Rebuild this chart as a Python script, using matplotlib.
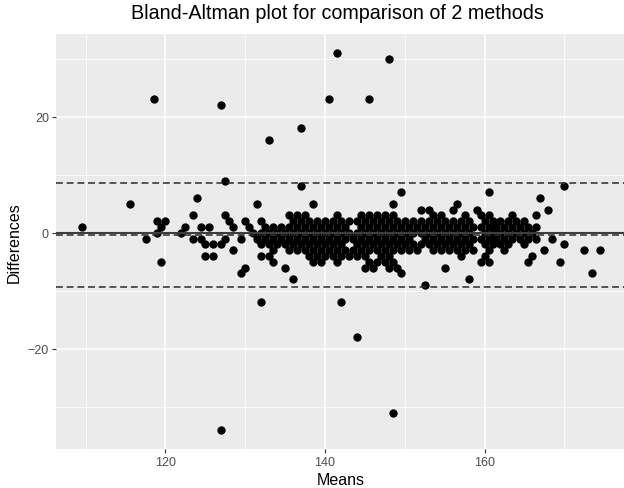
import numpy as np
import matplotlib
matplotlib.use("Agg")
import matplotlib.pyplot as plt
from matplotlib.ticker import MultipleLocator

plt.rcParams["font.family"] = ["Liberation Sans", "DejaVu Sans"]

# ── Data: means of the two methods, grouped by their (integer) difference ──
d31 = [141.5]
d30 = [148]
d23 = [118.5, 140.5, 145.5]
d22 = [127]
d18 = [137]
d16 = [133]
d9 = [127.5]
d8 = [137, 170]
d7 = [149.5, 160.5]
d6 = [124, 167]
d5 = [115.5, 131.5, 138.5, 148.5, 156.5]
d4 = [152, 153, 156, 159, 168]
d3 = [123.5, 127.5, 135.5, 136.5, 137.5, 141.5, 144.5, 145.5, 146.5, 147.5,
      148.5, 153.5, 154.5, 157.5, 159.5, 160.5, 163.5, 166.5]
d2 = [119, 120, 128, 130, 132, 136, 137, 138, 139, 140, 141, 142, 143, 144,
      145, 146, 147, 148, 149, 150, 151, 152, 153, 154, 155, 156, 157, 158,
      160, 161, 162, 163, 164, 165]
d1 = [109.5, 119.5, 122.5, 124.5, 125.5, 128.5, 130.5, 132.5, 133.5, 134.5,
      135.5, 136.5, 137.5, 138.5, 139.5, 140.5, 141.5, 142.5, 144.5, 145.5,
      146.5, 147.5, 148.5, 149.5, 150.5, 151.5, 152.5, 153.5, 154.5, 155.5,
      156.5, 157.5, 158.5, 159.5, 160.5, 161.5, 162.5, 163.5, 164.5, 165.5,
      166.5]
d0 = [119, 122, 131, 132, 133, 134, 135, 136, 137, 138, 139, 140, 141, 142,
      143, 144, 145, 146, 147, 148, 149, 150, 151, 152, 153, 154, 155, 156,
      157, 158, 160, 161, 162, 163, 164, 165, 166]
dm1 = [117.5, 123.5, 124.5, 127.5, 129.5, 131.5, 132.5, 133.5, 134.5, 135.5,
       136.5, 137.5, 138.5, 139.5, 140.5, 141.5, 142.5, 143.5, 144.5, 145.5,
       146.5, 147.5, 148.5, 149.5, 150.5, 152.5, 153.5, 154.5, 155.5, 156.5,
       157.5, 158.5, 159.5, 160.5, 161.5, 162.5, 163.5, 164.5, 165.5, 166.5,
       168.5]
dm2 = [125, 126, 127, 132, 133, 134, 135, 136, 137, 138, 139, 140, 141, 142,
       144, 145, 146, 147, 148, 149, 150, 151, 152, 153, 154, 155, 156, 157,
       158, 160, 161, 162, 163, 165, 170]
dm3 = [128.5, 133.5, 135.5, 136.5, 137.5, 138.5, 139.5, 140.5, 141.5, 142.5,
       143.5, 144.5, 145.5, 146.5, 147.5, 148.5, 149.5, 150.5, 151.5, 153.5,
       154.5, 155.5, 156.5, 157.5, 158.5, 160.5, 162.5, 167.5, 172.5, 174.5]
dm4 = [125, 126, 132, 133, 138, 139, 140, 141, 142, 143, 144, 145, 147, 148,
       157, 160, 166]
dm5 = [119.5, 133.5, 138.5, 139.5, 141.5, 145.5, 146.5, 147.5, 148.5, 159.5,
       160.5, 165.5, 169.5]
dm6 = [130, 135, 145, 146, 148, 149, 155]
dm7 = [129.5, 149.5, 173.5]
dm8 = [136, 158]
dm9 = [152.5]
dm12 = [132, 142]
dm18 = [144]
dm31 = [148.5]
dm34 = [127]

groups = [(31, d31), (30, d30), (23, d23), (22, d22), (18, d18), (16, d16),
          (9, d9), (8, d8), (7, d7), (6, d6), (5, d5), (4, d4), (3, d3),
          (2, d2), (1, d1), (0, d0), (-1, dm1), (-2, dm2), (-3, dm3),
          (-4, dm4), (-5, dm5), (-6, dm6), (-7, dm7), (-8, dm8), (-9, dm9),
          (-12, dm12), (-18, dm18), (-31, dm31), (-34, dm34)]

means = np.concatenate([np.array(v, float) for _, v in groups])
diffs = np.concatenate([np.full(len(v), d, float) for d, v in groups])

mean_diff = -0.4
upper_loa = 8.6
lower_loa = -9.4

# ── Figure (ggplot2 theme_gray look) ─────────────────────────────────────────
fig = plt.figure(figsize=(6.24, 4.89), dpi=100)
# panel runs a little past the right edge of the picture, as in the reference
ax = fig.add_axes([0.0894, 0.080, 0.914, 0.848])
ax.set_facecolor("#EBEBEB")
for sp in ax.spines.values():
    sp.set_visible(False)

ax.scatter(means, diffs, s=36, color="black", linewidths=0, zorder=3)

ax.axhline(0, color="#3d3d3d", lw=1.5, zorder=4)
for yv in (mean_diff, upper_loa, lower_loa):
    ax.axhline(yv, color="#2b2b2b", lw=1.1, dashes=(4.5, 2.5), zorder=4)

ax.set_xlim(106.25, 177.75)
ax.set_ylim(-37.25, 34.25)
ax.xaxis.set_major_locator(MultipleLocator(20))
ax.xaxis.set_minor_locator(MultipleLocator(10))
ax.yaxis.set_major_locator(MultipleLocator(20))
ax.yaxis.set_minor_locator(MultipleLocator(10))
ax.grid(True, which="major", color="white", lw=1.1, zorder=0)
ax.grid(True, which="minor", color="white", lw=0.55, zorder=0)
ax.set_axisbelow(True)
ax.tick_params(which="major", length=3, width=0.8, color="#333333",
               labelsize=9, labelcolor="#4D4D4D", pad=2)
ax.tick_params(which="minor", length=0)

ax.set_xlabel("Means", fontsize=11.5, labelpad=3)
ax.set_ylabel("Differences", fontsize=11.5, labelpad=4)
fig.text(0.5 * (0.0894 + 0.9936), 0.972,
         "Bland-Altman plot for comparison of 2 methods",
         fontsize=14.2, ha="center", va="center")

fig.savefig("out.png", dpi=100)
